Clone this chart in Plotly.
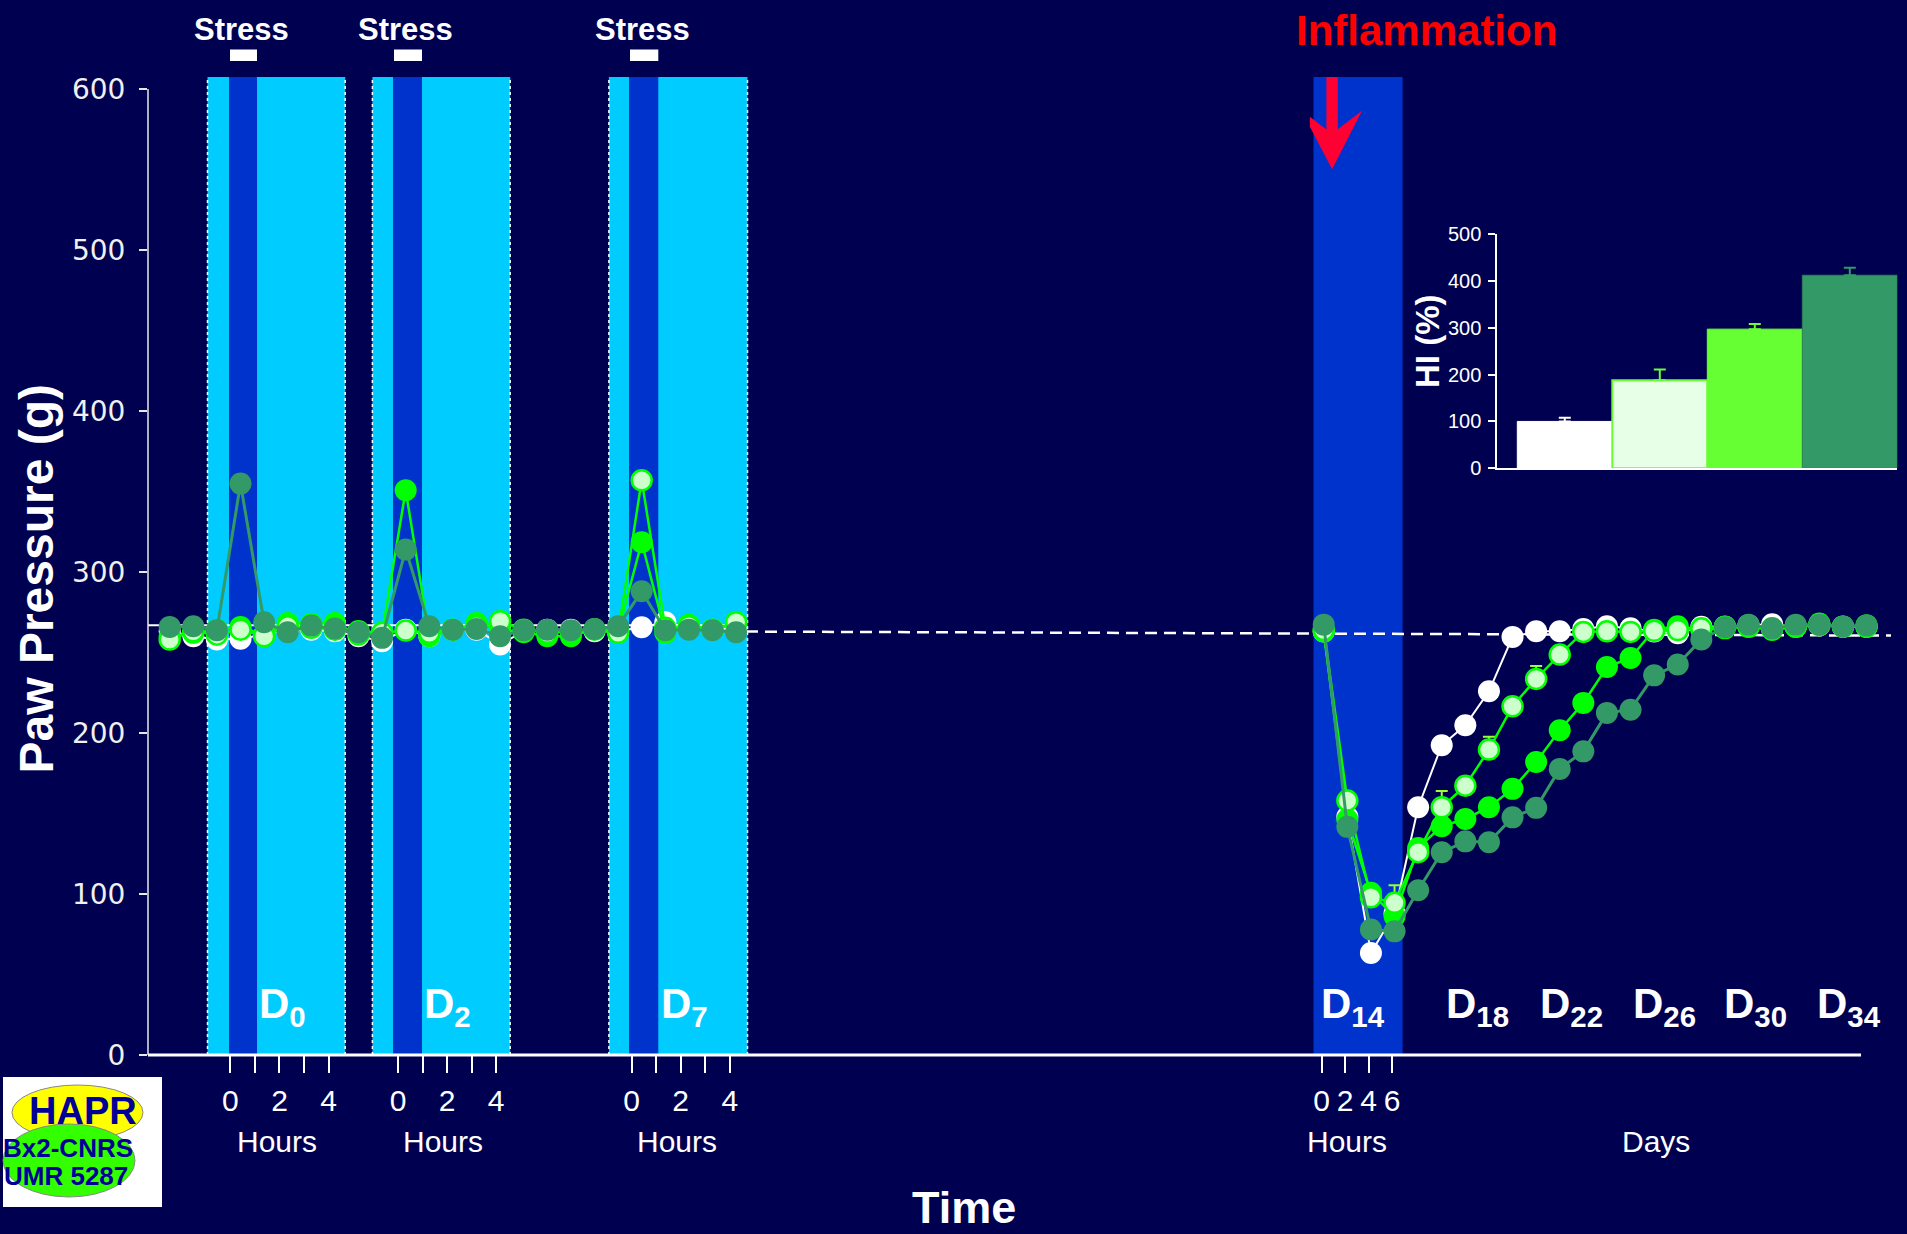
import plotly.graph_objects as go

# ---------------- data ----------------
# stress phase (sessions D0, D2, D7): consecutive hourly measurement slots
stress_slot = list(range(25))
stress_white = [263.2, 260.1, 258.1, 258.5, 261.1, 264.2, 264.2, 263.2, 260.1, 257.0, 264.2, 260.1, 264.2,
                264.2, 255.0, 263.2, 264.2, 264.2, 263.2, 263.2, 265.7, 268.8, 265.3, 264.2, 265.3]
stress_pale = [258.1, 263.2, 261.1, 264.2, 260.1, 266.3, 265.3, 264.2, 263.2, 262.2, 263.6, 262.2, 264.2,
               266.3, 269.4, 264.2, 262.2, 263.2, 264.2, 262.2, 357.0, 265.3, 266.3, 264.2, 268.8]
stress_green = [260.1, 262.2, 264.2, 265.9, 261.1, 268.3, 267.9, 268.3, 261.1, 262.2, 350.8, 260.1, 264.2,
                268.3, 264.2, 262.6, 260.1, 260.1, 264.6, 263.2, 318.5, 262.2, 267.3, 264.2, 267.9]
stress_dark = [265.9, 266.3, 263.8, 354.9, 268.8, 262.6, 266.7, 264.9, 262.6, 259.1, 313.9, 266.3, 264.2,
               264.6, 260.1, 263.8, 264.2, 263.8, 264.6, 266.3, 288.0, 263.8, 264.2, 263.8, 262.6]

# inflammation phase: D14 at 0, 2, 4, 6 h then daily D15 .. D34
infl_time = ["D14 0h", "D14 2h", "D14 4h", "D14 6h"] + ["D%d" % d for d in range(15, 35)]
infl_white = [263.0, 148.0, 63.4, 88.0, 153.9, 192.4, 204.8, 225.9, 259.7, 263.2, 263.2, 264.6,
              266.3, 265.0, 263.0, 262.0, 266.0, 266.0, 267.0, 267.5, 266.0, 267.0, 266.0, 266.0]
infl_pale = [264.0, 158.0, 98.0, 94.5, 126.0, 153.9, 167.3, 189.7, 216.6, 233.6, 248.7, 262.8,
             263.2, 262.8, 263.5, 264.0, 265.0, 266.0, 266.0, 265.0, 266.0, 267.0, 266.0, 266.0]
infl_pale_err = [0, 0, 0, 11, 0, 10, 0, 8, 0, 8, 0, 0, 0, 0, 0, 0, 0, 0, 0, 0, 0, 0, 0, 0]
infl_green = [263.0, 146.2, 100.7, 86.2, 128.6, 142.1, 146.6, 153.9, 165.3, 182.0, 201.7, 218.7,
              241.0, 246.6, 264.2, 266.3, 264.0, 265.0, 266.0, 264.0, 266.0, 268.0, 266.0, 267.0]
infl_dark = [267.3, 141.7, 77.9, 76.8, 102.3, 125.9, 132.7, 132.1, 147.6, 153.5, 177.7, 188.6,
             212.5, 214.5, 235.8, 242.5, 258.1, 265.7, 267.3, 265.0, 267.3, 267.3, 266.2, 266.8]

# inset: hyperalgesia index
hi_groups = [0, 1, 2, 3]
hi_values = [100, 188, 297, 412]
hi_err = [8, 23, 11, 16]

y_ticks = [0, 100, 200, 300, 400, 500, 600]
hi_ticks = [0, 100, 200, 300, 400, 500]
hour_labels = ["0", "2", "4"]          # labelled hours (even)
hour_minor = [1, 3]                    # unlabelled hour ticks
d14_ticktext = ["0", "2", "4", "6"]
session_labels = ["D<sub>0</sub>", "D<sub>2</sub>", "D<sub>7</sub>"]
day_labels = ["D<sub>14</sub>", "D<sub>18</sub>", "D<sub>22</sub>", "D<sub>26</sub>",
              "D<sub>30</sub>", "D<sub>34</sub>"]
baseline_level = [263, 260.5]

# ---------------- layout geometry ----------------
W, H = 1907, 1234
ML, MR, MT, MB = 148, 7, 77, 179
PW, PH = W - ML - MR, H - MT - MB
Y_SCALE = 1.61
YTOP = PH / Y_SCALE
X0PX, SLOT = 169.7, 23.6
XR0 = (ML - X0PX) / SLOT
XR1 = (W - MR - X0PX) / SLOT
INFL0 = 48.9
infl_slot = [INFL0 + k for k in range(len(infl_time))]


def xd(px):
    return (px - X0PX) / SLOT


def pxp(px):
    return (px - ML) / PW


def pyp(py):
    return (H - MB - py) / PH


BG = "#000050"
CYAN = "#00CCFF"
STRIPE = "#0033CC"
ARIAL = "Liberation Sans, Arial, sans-serif"

fig = go.Figure()


def series(left, right, mcolor, lcolor, lwidth, mline=None, err=None, size=22):
    xs = stress_slot + [None] + infl_slot
    ys = left + [None] + right
    tr = go.Scatter(
        x=xs, y=ys, mode="lines+markers", connectgaps=False,
        line=dict(color=lcolor, width=lwidth),
        marker=dict(color=mcolor, size=size,
                    line=dict(color=mline or mcolor, width=2.5 if mline else 0)),
        hoverinfo="y",
    )
    if err is not None:
        arr = [0] * len(left) + [0] + err
        tr.error_y = dict(type="data", array=arr, arrayminus=[0] * len(arr), symmetric=False,
                          color="#99FF33", thickness=2, width=6)
    fig.add_trace(tr)


series(stress_white, infl_white, "#FFFFFF", "#FFFFFF", 2)
series(stress_green, infl_green, "#00FF00", "#00FF00", 2.5)
series(stress_pale, infl_pale, "#CCFFCC", "#00FF00", 2.5, mline="#00FF00", err=infl_pale_err, size=20)
series(stress_dark, infl_dark, "#339966", "#339966", 3)

# inset bars
bar_fill = ["#FFFFFF", "#E6FFE6", "#66FF33", "#339966"]
bar_line = ["#FFFFFF", "#66FF33", "#66FF33", "#2E7F5A"]
bar_err_col = ["#FFFFFF", "#66FF33", "#66FF33", "#339966"]
for g, v, e, fc, lc, ec in zip(hi_groups, hi_values, hi_err, bar_fill, bar_line, bar_err_col):
    fig.add_trace(go.Bar(
        x=[g], y=[v], width=[1], xaxis="x2", yaxis="y2",
        marker=dict(color=fc, line=dict(color=lc, width=2 if g == 1 else 1)),
        error_y=dict(type="data", array=[e], arrayminus=[0], symmetric=False,
                     color=ec, thickness=2, width=6),
        hoverinfo="y",
    ))

# ---------------- shapes ----------------
shapes = []
# baseline under the stress sessions
shapes.append(dict(type="line", xref="x", yref="y", x0=XR0, x1=xd(746), y0=267, y1=267,
                   line=dict(color="white", width=2), layer="below"))
# stress session bands (light) with stress stripes (dark)
bands = [(207.5, 345.2), (372.4, 510.2), (608.9, 747.5)]
stripes = [(229.0, 257.0), (393.0, 422.0), (629.0, 658.3)]
for b0, b1 in bands:
    shapes.append(dict(type="rect", xref="x", yref="paper", x0=xd(b0), x1=xd(b1), y0=0, y1=1,
                       fillcolor=CYAN, line=dict(width=0), layer="below"))
for s0, s1 in stripes:
    shapes.append(dict(type="rect", xref="x", yref="paper", x0=xd(s0), x1=xd(s1), y0=0, y1=1,
                       fillcolor=STRIPE, line=dict(width=0), layer="below"))
for b0, b1 in bands:
    for bx in (b0, b1):
        shapes.append(dict(type="line", xref="x", yref="paper", x0=xd(bx), x1=xd(bx), y0=0, y1=1,
                           line=dict(color="white", width=1.5, dash="dot"), layer="below"))
# inflammation band
shapes.append(dict(type="rect", xref="x", yref="paper", x0=xd(1313.5), x1=xd(1402.6), y0=0, y1=1,
                   fillcolor=STRIPE, line=dict(width=0), layer="below"))
# dashed baseline
shapes.append(dict(type="line", xref="x", yref="y", x0=xd(746), x1=xd(1891),
                   y0=baseline_level[0], y1=baseline_level[1],
                   line=dict(color="white", width=2.5, dash="12px,7px"), layer="below"))
# stress markers above the bands
for s0, s1 in stripes:
    shapes.append(dict(type="rect", xref="x", yref="paper", x0=xd(s0 + 1), x1=xd(s1), y0=pyp(61),
                       y1=pyp(49.5), fillcolor="white", line=dict(width=0)))
# axes lines
shapes.append(dict(type="line", xref="paper", yref="paper", x0=0, x1=0, y0=0, y1=600 / YTOP,
                   line=dict(color="#E8E8E8", width=1.5)))
shapes.append(dict(type="line", xref="paper", yref="paper", x0=0, x1=pxp(1861), y0=0, y1=0,
                   line=dict(color="white", width=3)))
# red arrow
arrow_pts = [(1326.4, 77), (1326.4, 129.6), (1309.9, 116.7), (1309.9, 126.7), (1332.1, 169.3),
             (1362.0, 110.7), (1337.8, 129.3), (1337.8, 77)]
path = "M " + " L ".join("%.5f,%.5f" % (pxp(x), pyp(y)) for x, y in arrow_pts) + " Z"
shapes.append(dict(type="path", xref="paper", yref="paper", path=path, fillcolor="#FF0033",
                   line=dict(width=0)))
# logo
shapes.append(dict(type="rect", xref="paper", yref="paper", x0=pxp(3), x1=pxp(162), y0=pyp(1207),
                   y1=pyp(1077), fillcolor="white", line=dict(width=0)))
shapes.append(dict(type="circle", xref="paper", yref="paper", x0=pxp(12), x1=pxp(143), y0=pyp(1140),
                   y1=pyp(1085), fillcolor="#FFFF00", line=dict(color="#888888", width=1)))
shapes.append(dict(type="circle", xref="paper", yref="paper", x0=pxp(3), x1=pxp(135), y0=pyp(1197),
                   y1=pyp(1124), fillcolor="#33FF00", line=dict(color="#888888", width=1)))

# ---------------- annotations ----------------
ann = []


def text(s, px, py, size, color="white", bold=False, family=ARIAL, xanchor="center",
         yanchor="top", angle=0, pad=1):
    ann.append(dict(text="<b>%s</b>" % s if bold else s, x=pxp(px), y=pyp(py), xref="paper",
                    yref="paper", showarrow=False, xanchor=xanchor, yanchor=yanchor,
                    textangle=angle, borderpad=pad,
                    font=dict(family=family, size=size, color=color)))


for cx in (241.0, 405.0, 642.7):
    text("Stress", cx, 10.2, 31, bold=True)
text("Inflammation", 1426.0, 5.0, 42, color="#FF0000", bold=True)
for lab, cx in zip(session_labels, (282.8, 447.6, 684.7)):
    text(lab, cx, 977.7, 42, bold=True)
for lab, cx in zip(day_labels, (1352.9, 1477.7, 1571.4, 1664.5, 1755.9, 1848.8)):
    text(lab, cx, 977.7, 42, bold=True)
for cx in (276.6, 442.8, 677.3, 1346.8):
    text("Hours", cx, 1123.0, 30)
text("Days", 1655.6, 1123.0, 30)
text("Time", 964.3, 1233.5, 45, bold=True, yanchor="bottom", pad=0)
text("Paw Pressure (g)", 35.5, 579.0, 48, bold=True, yanchor="middle", angle=-90)
text("HI (%)", 1427.0, 341.0, 33, bold=True, yanchor="middle", angle=-90)
text("HAPR", 82.5, 1087.9, 38, color="#000099", bold=True)
text("Bx2-CNRS", 68.0, 1130.5, 26, color="#000099", bold=True)
text("UMR 5287", 66.0, 1158.5, 26, color="#000099", bold=True)

# x ticks (hours under each session, D14 hours)
tick_vals, tick_text, minor_vals = [], [], []
for start_px in (230.4, 398.0, 631.6):
    for lab in hour_labels:
        tick_vals.append(xd(start_px) + 1.04 * int(lab))
        tick_text.append(lab)
    for h in hour_minor:
        minor_vals.append(xd(start_px) + 1.04 * h)
for k, t in enumerate(d14_ticktext):
    tick_vals.append(xd(1321.6) + 0.997 * k)
    tick_text.append(t)

fig.update_layout(
    width=W, height=H,
    margin=dict(l=ML, r=MR, t=MT, b=MB, pad=0),
    paper_bgcolor=BG, plot_bgcolor=BG,
    showlegend=False, barmode="overlay",
    shapes=shapes, annotations=ann,
    xaxis=dict(range=[XR0, XR1], domain=[0, 1], showgrid=False, zeroline=False, showline=False,
               tickmode="array", tickvals=tick_vals, ticktext=tick_text, ticks="outside",
               ticklen=17, tickwidth=1.5, tickcolor="white", tickangle=0,
               minor=dict(tickmode="array", tickvals=minor_vals, ticks="outside", ticklen=17,
                          tickwidth=1.5, tickcolor="white", showgrid=False),
               tickfont=dict(family=ARIAL, size=30, color="white"), ticklabelstandoff=2),
    yaxis=dict(range=[0, YTOP], domain=[0, 1], showgrid=False, zeroline=False, showline=False,
               tickmode="array", tickvals=y_ticks, ticks="outside", ticklen=8, tickwidth=1.5,
               tickcolor="#E8E8E8", tickfont=dict(family="DejaVu Sans", size=28, color="#F0F0F0"),
               ticklabelstandoff=8),
    xaxis2=dict(domain=[pxp(1497.3), pxp(1897.3)], anchor="y2", range=[-0.7105, 3.5],
                showline=True, linecolor="white", linewidth=2, showticklabels=False, ticks="",
                showgrid=False, zeroline=False),
    yaxis2=dict(domain=[pyp(468.3), pyp(234.0)], anchor="x2", range=[0, 500], showline=True,
                linecolor="white", linewidth=2, ticks="outside", ticklen=7, tickwidth=1.5,
                tickcolor="white", tickmode="array", tickvals=hi_ticks, showgrid=False,
                zeroline=False, tickfont=dict(family=ARIAL, size=20, color="white"),
                ticklabelstandoff=3),
)

fig.write_html("out.html")
